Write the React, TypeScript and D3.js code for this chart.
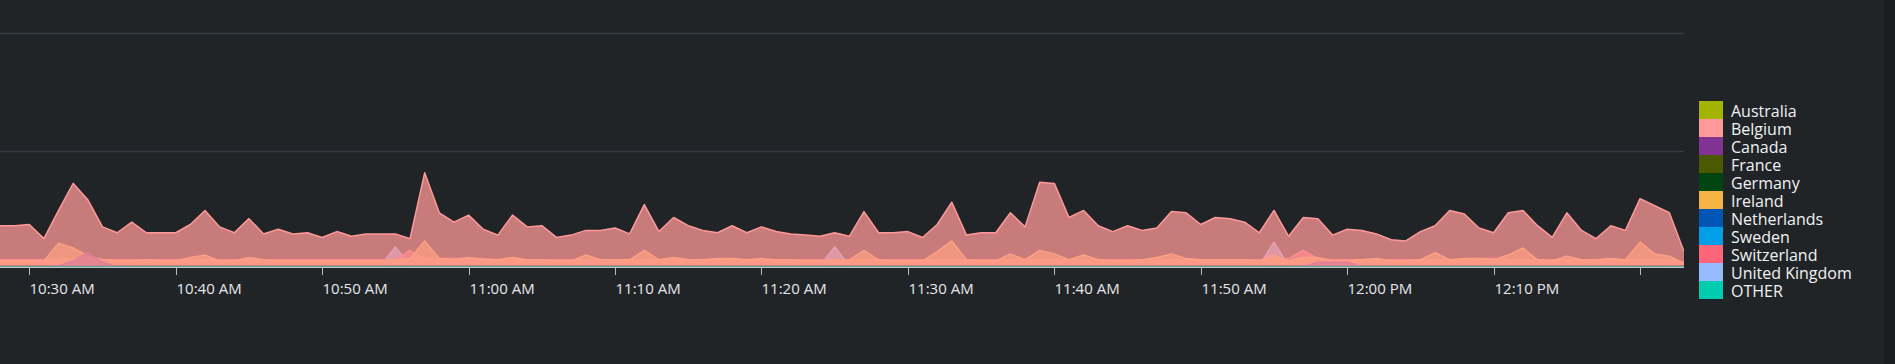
import React from 'react';
import * as d3 from 'd3';

const W = 1895;
const H = 364;

const seriesNames = ['Australia', 'Belgium', 'Canada', 'France', 'Germany', 'Ireland', 'Netherlands', 'Sweden', 'Switzerland', 'United Kingdom', 'OTHER'];
const seriesColors = ['#a3b400', '#ff9898', '#803393', '#4b5900', '#004410', '#f6b445', '#0055b5', '#009fe8', '#fd6679', '#96bcff', '#00ccaf'];

const startMinute = [10, 28];
const tickLabels = ['10:30 AM', '10:40 AM', '10:50 AM', '11:00 AM', '11:10 AM', '11:20 AM', '11:30 AM', '11:40 AM', '11:50 AM', '12:00 PM', '12:10 PM', ''];
const gridValues = [100, 200];

const belgium = [
  36, 36, 37, 25, 49, 72, 58, 35, 30, 39, 30, 30, 30, 37, 49, 35, 30, 42, 29, 33, 29, 30, 26, 31,
  27, 29, 29, 29, 25, 81, 47, 39, 45, 33, 28, 45, 35, 36, 26, 28, 32, 32, 34, 29, 54, 31, 43, 36,
  32, 30, 36, 30, 35, 31, 29, 28, 27, 30, 27, 48, 30, 30, 31, 26, 37, 56, 28, 30, 30, 47, 35, 73,
  72, 43, 49, 36, 31, 36, 32, 34, 48, 47, 37, 43, 42, 39, 30, 49, 27, 43, 42, 28, 33, 32, 29, 24,
  23, 31, 36, 49, 46, 34, 30, 47, 49, 36, 26, 47, 32, 25, 36, 32, 59, 53, 47, 14,
];
const ireland = [
  6, 6, 6, 6, 21, 17, 10, 7, 6, 6, 7, 6, 6, 9, 11, 6, 6, 9, 7, 6, 6, 6, 6, 6,
  6, 6, 6, 7, 8, 23, 8, 7, 9, 7, 7, 9, 7, 7, 6, 6, 11, 7, 7, 7, 15, 7, 9, 7,
  7, 8, 8, 7, 8, 7, 7, 6, 6, 7, 7, 15, 7, 6, 6, 6, 14, 23, 7, 6, 6, 12, 7, 15,
  12, 7, 11, 7, 6, 6, 7, 9, 12, 8, 7, 7, 7, 7, 6, 11, 6, 9, 9, 6, 6, 7, 8, 6,
  6, 7, 13, 7, 8, 8, 7, 11, 17, 7, 6, 10, 7, 7, 8, 7, 22, 12, 10, 4,
];
const switzerland = [
  7, 7, 7, 7, 8, 8, 8, 7, 7, 7, 7, 7, 7, 7, 7, 7, 7, 7, 7, 7, 7, 7, 7, 7,
  7, 7, 7, 7, 15, 8, 8, 8, 8, 8, 7, 7, 7, 7, 7, 7, 7, 7, 7, 7, 7, 7, 7, 7,
  7, 7, 7, 7, 7, 7, 7, 7, 7, 7, 7, 7, 7, 7, 7, 7, 7, 7, 7, 7, 7, 7, 7, 7,
  7, 7, 7, 7, 7, 7, 7, 7, 7, 7, 7, 7, 7, 7, 7, 7, 8, 15, 8, 7, 7, 7, 7, 7,
  7, 7, 7, 7, 7, 8, 8, 7, 7, 7, 7, 7, 7, 7, 7, 7, 7, 7, 7, 5,
];
const unitedKingdom = [
  2, 2, 2, 2, 3, 3, 2, 2, 2, 2, 2, 2, 2, 2, 2, 2, 2, 2, 2, 2, 2, 2, 2, 2,
  2, 2, 2, 18, 2, 2, 2, 2, 2, 2, 2, 2, 2, 2, 2, 2, 2, 2, 2, 2, 2, 2, 2, 2,
  2, 2, 2, 2, 2, 2, 2, 2, 2, 18, 2, 2, 2, 2, 2, 2, 2, 2, 2, 2, 2, 2, 2, 2,
  2, 2, 2, 2, 2, 2, 2, 2, 2, 2, 2, 2, 2, 2, 2, 22, 2, 2, 2, 2, 2, 2, 2, 2,
  2, 2, 2, 2, 2, 2, 2, 2, 2, 2, 2, 2, 2, 2, 2, 2, 3, 3, 2, 2,
];
const canada = [
  1, 1, 1, 1, 2, 6, 13, 5, 1, 1, 1, 1, 1, 1, 1, 1, 1, 1, 1, 1, 1, 1, 1, 1,
  1, 1, 1, 1, 1, 1, 1, 1, 1, 1, 1, 1, 1, 1, 1, 1, 1, 1, 1, 1, 1, 1, 1, 1,
  1, 1, 1, 1, 1, 1, 1, 1, 1, 1, 1, 1, 1, 1, 1, 1, 1, 1, 1, 1, 1, 1, 1, 1,
  1, 1, 1, 1, 1, 1, 1, 1, 1, 1, 1, 1, 1, 1, 1, 1, 1, 1, 5, 5, 5, 1, 1, 1,
  1, 1, 1, 1, 1, 1, 1, 1, 1, 1, 1, 1, 1, 1, 1, 1, 1, 1, 1, 1,
];
const australia = [
  0, 0, 0, 0, 0, 0, 0, 0, 0, 0, 0, 0, 0, 0, 0, 0, 0, 0, 0, 0, 0, 0, 0, 0,
  0, 0, 0, 0, 0, 0, 0, 0, 0, 0, 0, 0, 0, 0, 0, 0, 0, 0, 0, 0, 0, 0, 0, 0,
  0, 0, 0, 0, 0, 0, 0, 0, 0, 0, 0, 0, 0, 0, 0, 0, 0, 0, 0, 0, 0, 0, 0, 0,
  0, 0, 0, 0, 0, 0, 0, 0, 0, 0, 0, 0, 0, 0, 0, 0, 0, 0, 0, 0, 0, 0, 0, 0,
  0, 0, 0, 0, 0, 0, 0, 0, 0, 0, 0, 0, 0, 0, 0, 0, 0, 0, 0, 0,
];
const france = [
  1, 1, 1, 1, 1, 2, 2, 1, 1, 1, 1, 1, 1, 1, 1, 1, 1, 1, 1, 1, 1, 1, 1, 1,
  1, 1, 1, 1, 1, 1, 1, 1, 1, 1, 1, 1, 1, 1, 1, 1, 1, 1, 1, 1, 1, 1, 1, 1,
  1, 1, 1, 1, 1, 1, 1, 1, 1, 1, 1, 1, 1, 1, 1, 1, 1, 1, 1, 1, 1, 1, 1, 1,
  1, 1, 1, 1, 1, 1, 1, 1, 1, 1, 1, 1, 1, 1, 1, 1, 1, 1, 1, 1, 1, 1, 1, 1,
  1, 1, 1, 1, 1, 1, 1, 1, 1, 1, 1, 1, 1, 1, 1, 1, 1, 1, 1, 1,
];
const germany = [
  2, 2, 2, 2, 2, 2, 2, 2, 2, 2, 2, 2, 2, 2, 2, 2, 2, 2, 2, 2, 2, 2, 2, 2,
  2, 2, 2, 2, 2, 2, 2, 2, 2, 2, 2, 2, 2, 2, 2, 2, 2, 2, 2, 2, 2, 2, 2, 2,
  2, 2, 2, 2, 2, 2, 2, 2, 2, 2, 2, 2, 2, 2, 2, 2, 2, 2, 2, 2, 2, 2, 2, 2,
  2, 2, 2, 2, 2, 2, 2, 2, 2, 2, 2, 2, 2, 2, 2, 2, 2, 2, 2, 2, 2, 2, 2, 2,
  2, 2, 2, 2, 2, 2, 2, 2, 2, 2, 2, 2, 2, 2, 2, 2, 2, 2, 2, 2,
];
const netherlands = [
  2, 2, 2, 2, 2, 2, 3, 2, 2, 2, 2, 2, 2, 2, 2, 2, 2, 2, 2, 2, 2, 2, 2, 2,
  2, 2, 2, 2, 2, 2, 2, 2, 2, 2, 2, 2, 2, 2, 2, 2, 2, 2, 2, 2, 2, 2, 2, 2,
  2, 2, 2, 2, 2, 2, 2, 2, 2, 2, 2, 2, 2, 2, 2, 2, 2, 2, 2, 2, 2, 2, 2, 2,
  2, 2, 2, 2, 2, 2, 2, 2, 2, 2, 2, 2, 2, 2, 2, 2, 2, 2, 2, 2, 2, 2, 2, 2,
  2, 2, 2, 2, 2, 2, 2, 2, 2, 2, 2, 2, 2, 2, 2, 2, 2, 2, 2, 2,
];
const sweden = [
  2, 2, 2, 2, 2, 2, 2, 2, 2, 2, 2, 2, 2, 2, 2, 2, 2, 2, 2, 2, 2, 2, 2, 2,
  2, 2, 2, 2, 2, 2, 2, 2, 2, 2, 2, 2, 2, 2, 2, 2, 2, 2, 2, 2, 2, 2, 2, 2,
  2, 2, 2, 2, 2, 2, 2, 2, 2, 2, 2, 2, 2, 2, 2, 2, 2, 2, 2, 2, 2, 2, 2, 2,
  2, 2, 2, 2, 2, 2, 2, 2, 2, 2, 2, 2, 2, 2, 2, 2, 2, 2, 2, 2, 2, 2, 2, 2,
  2, 2, 2, 2, 2, 2, 2, 2, 2, 2, 2, 2, 2, 2, 2, 2, 2, 2, 2, 2,
];
const other = [
  1, 1, 1, 1, 1, 1, 1, 1, 1, 1, 1, 1, 1, 1, 1, 1, 1, 1, 1, 1, 1, 1, 1, 1,
  1, 1, 1, 1, 1, 1, 1, 1, 1, 1, 1, 1, 1, 1, 1, 1, 1, 1, 1, 1, 1, 1, 1, 1,
  1, 1, 1, 1, 1, 1, 1, 1, 1, 1, 1, 1, 1, 1, 1, 1, 1, 1, 1, 1, 1, 1, 1, 1,
  1, 1, 1, 1, 1, 1, 1, 1, 1, 1, 1, 1, 1, 1, 1, 1, 1, 1, 1, 1, 1, 1, 1, 1,
  1, 1, 1, 1, 1, 1, 1, 1, 1, 1, 1, 1, 1, 1, 1, 1, 1, 1, 1, 1,
];

const seriesValues = [australia, belgium, canada, france, germany, ireland, netherlands, sweden, switzerland, unitedKingdom, other];

export default function App() {
  const n = belgium.length;
  const t0 = new Date(2024, 0, 1, startMinute[0], startMinute[1]);
  const times = d3.range(n).map((i) => d3.timeMinute.offset(t0, i));
  const plotLeft = 0;
  const plotRight = 1684;
  const x = d3.scaleTime().domain([times[0], times[n - 1]]).range([plotLeft, plotRight]);
  const y = d3.scaleLinear().domain([0, 200]).range([268, 33]);
  const axisY = 267;

  const ticks = d3.timeMinute.every(10)!.range(times[0], d3.timeMinute.offset(times[n - 1], 1));

  const area = d3.area<number>()
    .x((_, i) => x(times[i]))
    .y0(y(0))
    .y1((d) => y(d));
  const line = d3.line<number>()
    .x((_, i) => x(times[i]))
    .y((d) => y(d));

  const font = "'Open Sans', sans-serif";
  // first series is drawn on top, so draw in reverse order
  const drawOrder = d3.range(seriesNames.length).reverse();

  return (
    <svg width={W} height={H} style={{ position: 'fixed', left: 0, top: 0, display: 'block' }}>
      <rect x={0} y={0} width={W} height={H} fill="#212427" />
      <rect x={1884} y={0} width={W - 1884} height={H} fill="#1b1d20" />
      {gridValues.map((v) => (
        <line key={v} x1={plotLeft} x2={plotRight} y1={Math.round(y(v)) + 0.5} y2={Math.round(y(v)) + 0.5} stroke="#353c43" strokeWidth={1.5} />
      ))}
      <defs>
        <clipPath id="plotclip">
          <rect x={plotLeft} y={0} width={plotRight - plotLeft} height={axisY} />
        </clipPath>
      </defs>
      <g clipPath="url(#plotclip)">
        {drawOrder.map((k) => (
          <g key={seriesNames[k]}>
            <path d={area(seriesValues[k]) || ''} fill={seriesColors[k]} fillOpacity={0.75} />
            <path d={line(seriesValues[k]) || ''} fill="none" stroke={seriesColors[k]} strokeWidth={1.5} strokeLinejoin="round" />
          </g>
        ))}
      </g>
      <line x1={plotLeft} x2={plotRight} y1={axisY - 0.5} y2={axisY - 0.5} stroke="#00b89c" strokeOpacity={0.6} strokeWidth={1} />
      <line x1={plotLeft} x2={plotRight} y1={axisY + 0.5} y2={axisY + 0.5} stroke="#c0c6cc" strokeWidth={1} />
      {ticks.map((t, i) => {
        const tx = Math.round(x(t)) + 0.5;
        return (
          <g key={i}>
            <line x1={tx} x2={tx} y1={axisY} y2={axisY + 8} stroke="#b6bcc2" strokeWidth={1} />
            <text x={tx} y={294} fill="#e4e7ea" fontSize={15} fontFamily={font}>{tickLabels[i]}</text>
          </g>
        );
      })}
      {seriesNames.map((name, k) => (
        <g key={name}>
          <rect x={1699} y={101 + k * 18} width={24} height={18} fill={seriesColors[k]} />
          <text x={1731} y={101 + k * 18 + 16} fill="#f0f2f4" fontSize={16} fontFamily={font}>{name}</text>
        </g>
      ))}
    </svg>
  );
}
